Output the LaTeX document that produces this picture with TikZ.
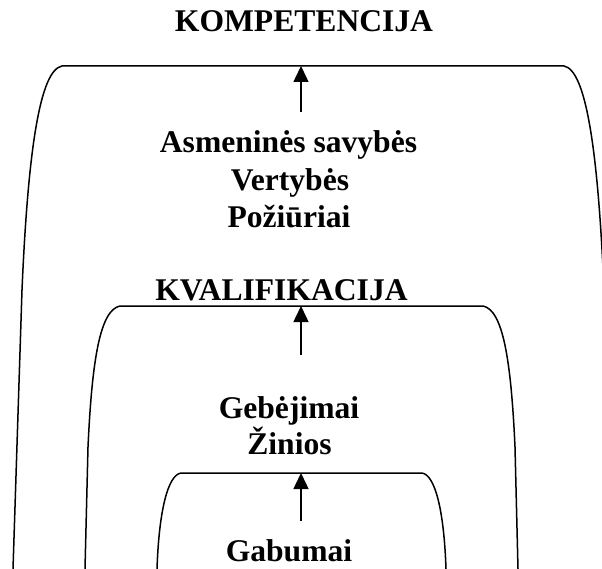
\documentclass[tikz,border=0pt]{standalone}
\usepackage{fontspec}
\setmainfont{Liberation Serif}
\usepackage{tikz}
\usetikzlibrary{arrows.meta,positioning}

\tikzset{
	lbl/.style={anchor=base, inner sep=0pt, font=\fontsize{31.6}{37.5}\selectfont\bfseries},
	arch/.style={line width=1.5pt},
	up/.style={-{Triangle[width=15pt,length=16pt]}, line width=1.5pt}
}

\begin{document}
\begin{tikzpicture}[x=1pt,y=-1pt]
	\clip (0,0) rectangle (602,569);
	
	\node[lbl] (komp) at (304,32) {KOMPETENCIJA};
	\node[lbl] (asm) at (288.5,153) {Asmeninės savybės};
	\node[lbl] (vert) at (290,191) {Vertybės};
	\node[lbl] (poz) at (289,228) {Požiūriai};
	\node[lbl] (kval) at (281.5,300) {KVALIFIKACIJA};
	\node[lbl] (geb) at (289,418) {Gebėjimai};
	\node[lbl] (zin) at (289.5,454) {Žinios};
	\node[lbl] (gab) at (289,561) {Gabumai};
	
	% arches
	\draw[arch] (13,569) -- (22,290) .. controls (28,150) and (40,70) .. (62,66)
		-- (564,66) .. controls (586,70) and (598,150) .. (604,290) -- (613,569);
	\draw[arch] (85,569) -- (88,447) .. controls (92,360) and (100,310) .. (120,306)
		-- (483,306) .. controls (503,310) and (511,360) .. (515,447) -- (518,569);
	\draw[arch] (157,569) .. controls (159,510) and (168,475) .. (181,473)
		-- (422,473) .. controls (435,475) and (444,510) .. (446,569);
	
	\coordinate (s1) at (301,112);
	\coordinate (t1) at (301,66);
	\coordinate (s2) at (301,355);
	\coordinate (t2) at (301,306);
	\coordinate (s3) at (301,521);
	\coordinate (t3) at (301,473);
	
	\path [up] (s1) edge (t1);
	\path [up] (s2) edge (t2);
	\path [up] (s3) edge (t3);
\end{tikzpicture}
\end{document}
